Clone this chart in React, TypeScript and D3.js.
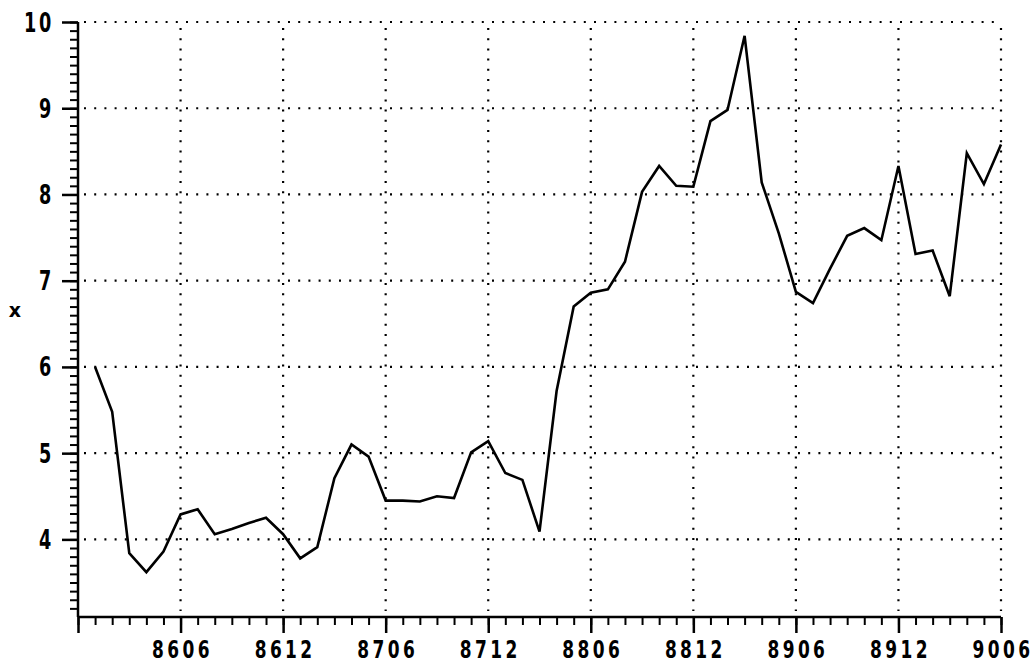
import React, { useEffect, useRef } from 'react';
import * as d3 from 'd3';

// monthly observations, YYMM
const months = [
  '8601', '8602', '8603', '8604', '8605', '8606', '8607', '8608', '8609', '8610', '8611', '8612',
  '8701', '8702', '8703', '8704', '8705', '8706', '8707', '8708', '8709', '8710', '8711', '8712',
  '8801', '8802', '8803', '8804', '8805', '8806', '8807', '8808', '8809', '8810', '8811', '8812',
  '8901', '8902', '8903', '8904', '8905', '8906', '8907', '8908', '8909', '8910', '8911', '8912',
  '9001', '9002', '9003', '9004', '9005', '9006',
];

const values = [
  6.0, 5.48, 3.84, 3.62, 3.86, 4.29, 4.35, 4.06, 4.12, 4.19, 4.25, 4.06,
  3.78, 3.91, 4.71, 5.1, 4.96, 4.45, 4.45, 4.44, 4.5, 4.48, 5.01, 5.14,
  4.77, 4.69, 4.09, 5.72, 6.7, 6.86, 6.9, 7.22, 8.03, 8.33, 8.1, 8.09,
  8.85, 8.98, 9.84, 8.14, 7.55, 6.87, 6.74, 7.14, 7.52, 7.61, 7.47, 8.33,
  7.31, 7.35, 6.82, 8.48, 8.12, 8.58,
];

const xTickLabels = ['8606', '8612', '8706', '8712', '8806', '8812', '8906', '8912', '9006'];
const yTickValues = [4, 5, 6, 7, 8, 9, 10];

const xStart = '8512';
const xEnd = '9006';
const yMin = 3.1;
const yMax = 10;
const yLabel = 'x';

// YYMM -> months since start
const monthIndex = (s: string) => {
  const yy = +s.slice(0, 2);
  const mm = +s.slice(2, 4);
  const s0 = +xStart.slice(0, 2) * 12 + +xStart.slice(2, 4);
  return yy * 12 + mm - s0;
};

const W = 1034;
const H = 665;
const FONT = "'DejaVu Sans', sans-serif";
const SQUEEZE = 0.68; // fake a condensed face

const App: React.FC = () => {
  const svgRef = useRef<SVGSVGElement>(null);

  useEffect(() => {
    if (!svgRef.current) return;
    const svg = d3.select(svgRef.current);
    svg.selectAll('*').remove();

    const left = 78;
    const right = 1001;
    const top = 22;
    const bottom = 617;

    const x = d3.scaleLinear().domain([0, monthIndex(xEnd)]).range([left, right]);
    const y = d3.scaleLinear().domain([yMin, yMax]).range([bottom, top]);

    // dotted grid
    const grid = svg.append('g')
      .attr('stroke', '#000')
      .attr('stroke-width', 2.2)
      .attr('stroke-dasharray', '2 8.2');

    grid.selectAll('.hgrid')
      .data(yTickValues)
      .enter()
      .append('line')
      .attr('x1', left + 6)
      .attr('x2', right)
      .attr('y1', d => y(d))
      .attr('y2', d => y(d));

    grid.selectAll('.vgrid')
      .data(xTickLabels)
      .enter()
      .append('line')
      .attr('x1', d => x(monthIndex(d)))
      .attr('x2', d => x(monthIndex(d)))
      .attr('y1', top + 6)
      .attr('y2', bottom - 6);

    // y axis, minor ticks every 0.1
    const minorY = d3.range(Math.round(yMin * 10) + 1, yMax * 10 + 1).map(v => v / 10);
    const gy = svg.append('g')
      .attr('transform', `translate(${left},0)`)
      .call(d3.axisLeft(y).tickValues(minorY).tickSize(8).tickFormat(() => ''));
    gy.select('.domain').remove();
    gy.selectAll('line').attr('stroke', '#000').attr('stroke-width', 2);

    const yMajor = svg.append('g')
      .attr('transform', `translate(${left},0)`)
      .call(d3.axisLeft(y).tickValues(yTickValues).tickSize(16).tickFormat(() => ''));
    yMajor.select('.domain').remove();
    yMajor.selectAll('line').attr('stroke', '#000').attr('stroke-width', 2.5);

    svg.append('g')
      .selectAll('text')
      .data(yTickValues)
      .enter()
      .append('text')
      .attr('transform', d => `translate(54,${y(d) + 9.5}) scale(${SQUEEZE},1)`)
      .attr('text-anchor', 'end')
      .style('font-family', FONT)
      .style('font-size', '26px')
      .style('font-weight', 'bold')
      .style('letter-spacing', '4px')
      .text(d => String(d));

    // x axis, minor ticks every month
    const minorX = d3.range(0, monthIndex(xEnd) + 1);
    const gx = svg.append('g')
      .attr('transform', `translate(0,${bottom})`)
      .call(d3.axisBottom(x).tickValues(minorX).tickSize(8).tickFormat(() => ''));
    gx.select('.domain').remove();
    gx.selectAll('line').attr('stroke', '#000').attr('stroke-width', 2);

    const xMajor = svg.append('g')
      .attr('transform', `translate(0,${bottom})`)
      .call(
        d3.axisBottom(x)
          .tickValues([0, ...xTickLabels.map(monthIndex)])
          .tickSize(16)
          .tickFormat(() => '')
      );
    xMajor.select('.domain').remove();
    xMajor.selectAll('line').attr('stroke', '#000').attr('stroke-width', 2.5);

    svg.append('g')
      .selectAll('text')
      .data(xTickLabels)
      .enter()
      .append('text')
      .attr('transform', d => `translate(${x(monthIndex(d)) + 2},658) scale(${SQUEEZE},1)`)
      .attr('text-anchor', 'middle')
      .style('font-family', FONT)
      .style('font-size', '25px')
      .style('font-weight', 'bold')
      .style('letter-spacing', '5px')
      .text(d => d);

    // solid axis lines
    svg.append('line')
      .attr('x1', left).attr('x2', left)
      .attr('y1', top).attr('y2', bottom)
      .attr('stroke', '#000').attr('stroke-width', 2.5);
    svg.append('line')
      .attr('x1', left).attr('x2', right)
      .attr('y1', bottom).attr('y2', bottom)
      .attr('stroke', '#000').attr('stroke-width', 2.5);

    // y label
    svg.append('text')
      .attr('x', 15)
      .attr('y', 317)
      .attr('text-anchor', 'middle')
      .style('font-family', FONT)
      .style('font-size', '19px')
      .style('font-weight', 'bold')
      .text(yLabel);

    // series
    const line = d3.line<number>()
      .x((_, i) => x(monthIndex(months[i])))
      .y(d => y(d));

    svg.append('path')
      .datum(values)
      .attr('d', line)
      .attr('fill', 'none')
      .attr('stroke', '#000')
      .attr('stroke-width', 2.6)
      .attr('stroke-linejoin', 'miter');
  }, []);

  return (
    <svg
      ref={svgRef}
      width={W}
      height={H}
      style={{ position: 'absolute', left: 0, top: 0, background: '#fff', display: 'block' }}
    />
  );
};

export default App;
